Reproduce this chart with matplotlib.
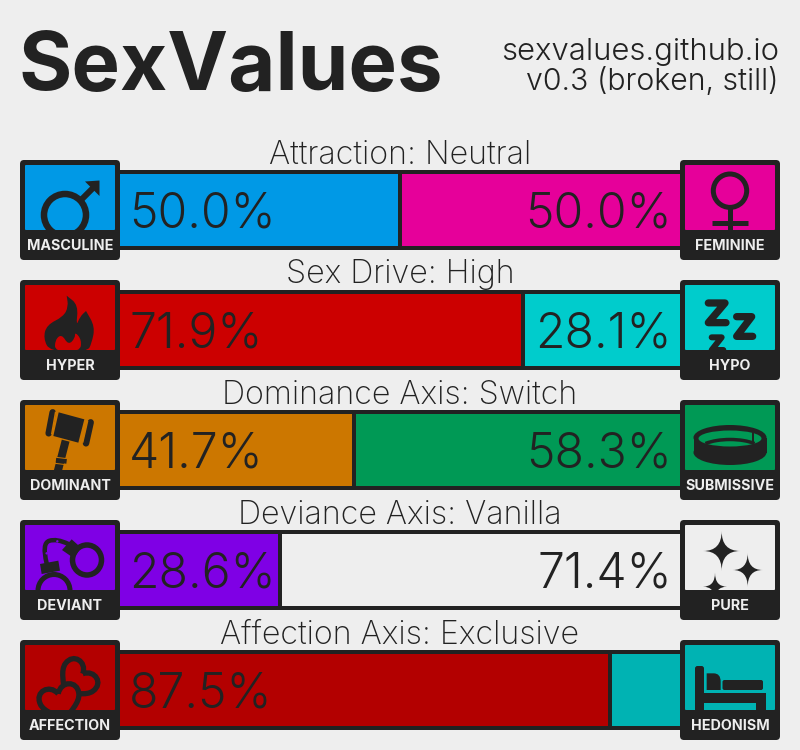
import math
import matplotlib
matplotlib.use('Agg')
import matplotlib.pyplot as plt
from matplotlib.patches import Rectangle, FancyBboxPatch, Circle, Ellipse, PathPatch, Arc
from matplotlib.path import Path

BG = '#EEEEEE'
DARK = '#222222'
FONT = 'Inter'

# chart values
axis_titles = ['Attraction: Neutral', 'Sex Drive: High', 'Dominance Axis: Switch',
               'Deviance Axis: Vanilla', 'Affection Axis: Exclusive']
left_values = [50.0, 71.9, 41.7, 28.6, 87.5]
right_values = [50.0, 28.1, 58.3, 71.4, 12.5]
left_names = ['MASCULINE', 'HYPER', 'DOMINANT', 'DEVIANT', 'AFFECTION']
right_names = ['FEMININE', 'HYPO', 'SUBMISSIVE', 'PURE', 'HEDONISM']
left_colors = ['#0099E6', '#CC0000', '#CC7700', '#7F00E5', '#B30000']
right_colors = ['#E6009A', '#00CCCC', '#009955', '#EEEEEE', '#00B3B3']

fig = plt.figure(figsize=(8, 7.5), dpi=100)
fig.patch.set_facecolor(BG)

# bars get their own axes, 0-100 across the gap between the icons
bar_ax = fig.add_axes([120 / 800, 0, 560 / 800, 600 / 750])
bar_ax.set_xlim(0, 100)
bar_ax.set_ylim(4.5, -0.5)
bar_ax.axis('off')
rows = list(range(len(left_values)))
bar_ax.barh(rows, [100] * len(rows), height=80 / 120, color=DARK, linewidth=0)
bar_ax.barh(rows, left_values, height=72 / 120, color=left_colors, linewidth=0)
bar_ax.barh(rows, right_values, left=left_values, height=72 / 120, color=right_colors, linewidth=0)
bar_ax.vlines(left_values, [r - 36 / 120 for r in rows], [r + 36 / 120 for r in rows], color=DARK, lw=2.88)

# everything else in pixel coordinates
ax = fig.add_axes([0, 0, 1, 1])
ax.set_xlim(0, 800)
ax.set_ylim(750, 0)
ax.axis('off')

ax.text(19, 90, 'SexValues', family=FONT, weight=700, fontsize=58.7, color=DARK, ha='left', va='baseline')
ax.text(779, 60, 'sexvalues.github.io', family=FONT, weight=300, fontsize=22.3, color=DARK, ha='right', va='baseline')
ax.text(779, 90, 'v0.3 (broken, still)', family=FONT, weight=300, fontsize=21.8, color=DARK, ha='right', va='baseline')


def zpts(pts, ox, oy):
    return [(ox + x / 3, oy + y / 3) for x, y in pts]


def blob(pts, **kw):
    # closed quadratic spline, repeat a point to get a sharper corner
    mids = [((pts[i][0] + pts[(i + 1) % len(pts)][0]) / 2, (pts[i][1] + pts[(i + 1) % len(pts)][1]) / 2)
            for i in range(len(pts))]
    verts = [mids[-1]]
    codes = [Path.MOVETO]
    for p, m in zip(pts, mids):
        verts += [p, m]
        codes += [Path.CURVE3, Path.CURVE3]
    return PathPatch(Path(verts, codes), **kw)


def stroke(pts, lw, color=DARK, cap='round', join='round'):
    return ax.plot([p[0] for p in pts], [p[1] for p in pts], color=color, lw=lw * 0.72,
                   solid_capstyle=cap, solid_joinstyle=join, zorder=6)[0]


def spline_stroke(pts, lw):
    verts = [pts[0]]
    codes = [Path.MOVETO]
    for i in range(1, len(pts) - 1):
        m = ((pts[i][0] + pts[i + 1][0]) / 2, (pts[i][1] + pts[i + 1][1]) / 2)
        if i == len(pts) - 2:
            m = pts[-1]
        verts += [pts[i], m]
        codes += [Path.CURVE3, Path.CURVE3]
    return PathPatch(Path(verts, codes), fc='none', ec=DARK, lw=lw * 0.72, capstyle='round', zorder=6)


def star(cx, cy, rx, ry):
    v = [(cx, cy - ry), (cx, cy), (cx + rx, cy), (cx, cy), (cx, cy + ry), (cx, cy), (cx - rx, cy), (cx, cy), (cx, cy - ry)]
    c = [Path.MOVETO] + [Path.CURVE3] * 8
    return PathPatch(Path(v, c), fc=DARK, ec='none', zorder=6)


def heart(cx, cy, s, deg, fc):
    unit = [(0, -0.35), (-0.3, -0.95), (-1.1, -0.75), (-1, -0.1), (-0.95, 0.35), (-0.3, 0.7), (0, 1),
            (0.3, 0.7), (0.95, 0.35), (1, -0.1), (1.1, -0.75), (0.3, -0.95), (0, -0.35)]
    t = math.radians(deg)
    v = [(cx + s * (x * math.cos(t) - y * math.sin(t)), cy + s * (x * math.sin(t) + y * math.cos(t))) for x, y in unit]
    c = [Path.MOVETO] + [Path.CURVE4] * 12
    return PathPatch(Path(v, c), fc=fc, ec=DARK, lw=5.3 * 0.72, zorder=6)


def icon_male(oy):
    out = [ax.add_patch(Circle((65, oy + 55), 21, fc='none', ec=DARK, lw=6.5 * 0.72, zorder=6))]
    out.append(stroke([(81, oy + 40), (94, oy + 27)], 6, cap='butt'))
    out.append(ax.add_patch(plt.Polygon([(99.5, oy + 20.5), (99.5, oy + 36), (85, oy + 21.5)], fc=DARK, ec='none', zorder=6)))
    return out


def icon_female(oy):
    out = [ax.add_patch(Circle((730, oy + 30.7), 16.7, fc='none', ec=DARK, lw=5 * 0.72, zorder=6))]
    out.append(stroke([(730, oy + 47), (730, oy + 72)], 5, cap='butt'))
    out.append(stroke([(712, oy + 63), (748, oy + 63)], 5, cap='butt'))
    return out


def icon_flame(oy):
    f = lambda pts: zpts(pts, 0, oy - 150)
    outer = f([(200, 497), (200, 497), (235, 525), (228, 590), (240, 560), (258, 543), (258, 543),
               (285, 590), (275, 640), (262, 665), (150, 665), (130, 625), (140, 585), (190, 560),
               (205, 530)])
    inner = f([(165, 665), (165, 630), (185, 612), (205, 645), (225, 625), (225, 605), (245, 630), (240, 665)])
    return [ax.add_patch(blob(outer, fc=DARK, ec='none', zorder=6)),
            ax.add_patch(blob(inner, fc=left_colors[1], ec='none', zorder=6))]


def icon_zzz(oy):
    f = lambda pts: zpts(pts, 600, oy - 150)
    return [stroke(f([(325, 519), (375, 519), (325, 578), (378, 578)]), 7.3),
            stroke(f([(410, 560), (455, 560), (410, 619), (458, 619)]), 7.3),
            stroke(f([(335, 622), (365, 622), (335, 660), (370, 660)]), 6)]


def icon_gavel(oy):
    f = lambda pts: zpts(pts, 0, oy - 20)
    c = left_colors[2]
    out = [ax.add_patch(plt.Polygon(f([(176, 97), (253, 118), (235, 188), (160, 168)]), fc=DARK, ec='none', zorder=6))]
    out.append(stroke(f([(158, 97), (146, 160)]), 6.5))
    out.append(stroke(f([(272, 127), (258, 190)]), 6.5))
    out.append(stroke(f([(167, 95), (155, 163)]), 1.5, c, 'butt'))
    out.append(stroke(f([(263, 122), (248, 188)]), 1.5, c, 'butt'))
    out.append(stroke(f([(197, 182), (173, 275)]), 8, cap='butt'))
    out.append(stroke(f([(168, 239), (200, 243)]), 5.5, cap='butt'))
    out.append(stroke(f([(168, 232), (202, 236)]), 1, c, 'butt'))
    out.append(stroke(f([(165, 250), (198, 254)]), 1, c, 'butt'))
    return out


def icon_collar(oy):
    c = right_colors[2]
    cx = 730
    cy_top = oy + 37.5
    cy_bot = oy + 52.5
    out = [ax.add_patch(Rectangle((cx - 36.5, cy_top), 73, cy_bot - cy_top, fc=DARK, ec='none', zorder=6)),
           ax.add_patch(Ellipse((cx, cy_top), 73, 25, fc=DARK, ec='none', zorder=6)),
           ax.add_patch(Ellipse((cx, cy_bot), 73, 25, fc=DARK, ec='none', zorder=6)),
           ax.add_patch(Ellipse((cx, cy_top + 1), 63, 16, fc=c, ec='none', zorder=6))]
    out.append(ax.add_patch(Arc((cx, cy_top + 15), 68, 26, theta1=200, theta2=340, ec=DARK, lw=2.5, zorder=6)))
    out.append(stroke([(cx + 23, oy + 29), (cx + 23, oy + 43)], 2))
    return out


def icon_cuffs(oy):
    f = lambda pts: zpts(pts, 0, oy - 140)
    c = left_colors[3]
    out = [ax.add_patch(Ellipse((87, oy + 40), 29, 30, fc='none', ec=DARK, lw=5.5 * 0.72, zorder=6)),
           ax.add_patch(Circle((54, oy + 70.5), 16, fc='none', ec=DARK, lw=5 * 0.72, zorder=6))]
    out.append(ax.add_patch(plt.Polygon(f([(186, 510), (215, 478), (243, 503), (222, 535)]), fc=DARK, ec='none', zorder=6)))
    out.append(ax.add_patch(plt.Polygon(f([(120, 552), (175, 542), (180, 572), (125, 582)]), fc=DARK, ec='none', zorder=6)))
    out.append(ax.add_patch(spline_stroke(f([(140, 550), (125, 490), (170, 475), (205, 492)]), 4.5)))
    for p in f([(172, 484), (150, 497), (140, 520)]):
        out.append(ax.add_patch(Circle(p, 1.2, fc=c, ec='none', zorder=6)))
    return out


def icon_sparkle(oy):
    f = lambda x, y: (600 + x / 3, oy - 140 + y / 3)
    return [ax.add_patch(star(*f(365, 513), 18.5, 20)),
            ax.add_patch(star(*f(443, 570), 15, 17)),
            ax.add_patch(star(*f(345, 620), 12, 14))]


def icon_hearts(oy):
    # lower heart is filled so it hides the tip of the upper one
    return [ax.add_patch(heart(78, oy + 38.5, 19.5, 45, 'none')),
            ax.add_patch(heart(60, oy + 60.5, 20, -15, left_colors[4]))]


def icon_bed(oy):
    f = lambda pts: zpts(pts, 600, oy - 260)
    out = [ax.add_patch(FancyBboxPatch((695, oy + 26), 9, 60, boxstyle='round,pad=0,rounding_size=2.5', fc=DARK, ec='none', zorder=6))]
    out.append(ax.add_patch(plt.Polygon(f([(312, 938), (497, 938), (497, 995), (468, 995), (468, 968), (312, 968)]), fc=DARK, ec='none', zorder=6)))
    out.append(ax.add_patch(blob(f([(320, 880), (320, 880), (362, 880), (362, 930), (362, 930), (320, 930), (320, 930)]), fc=DARK, ec='none', zorder=6)))
    out.append(ax.add_patch(FancyBboxPatch((722.5, oy + 40), 40.5, 10, boxstyle='round,pad=0,rounding_size=2', fc=DARK, ec='none', zorder=6)))
    return out


left_icons = [icon_male, icon_flame, icon_gavel, icon_cuffs, icon_hearts]
right_icons = [icon_female, icon_zzz, icon_collar, icon_sparkle, icon_bed]

for i in rows:
    top = 160 + 120 * i
    ax.text(400, top + 3.5, axis_titles[i], family=FONT, weight=200, fontsize=23.2, color=DARK, ha='center', va='baseline')
    # percentages, the small side has no room for one
    if left_values[i] > 20:
        ax.text(129, top + 50, f'{left_values[i]:.1f}%', family=FONT, weight=300, fontsize=34.6, color=DARK,
                ha='left', va='center_baseline')
    if right_values[i] > 20:
        ax.text(672, top + 50, f'{right_values[i]:.1f}%', family=FONT, weight=300, fontsize=34.6, color=DARK,
                ha='right', va='center_baseline')
    boxes = [(20, left_colors[i], left_names[i], left_icons[i]),
             (680, right_colors[i], right_names[i], right_icons[i])]
    for x0, col, name, draw in boxes:
        ax.add_patch(FancyBboxPatch((x0, top), 100, 100, boxstyle='round,pad=0,rounding_size=4',
                                    fc=DARK, ec='none', zorder=4))
        ax.add_patch(FancyBboxPatch((x0 + 5, top + 5), 90, 65, boxstyle='round,pad=0,rounding_size=1',
                                    fc=col, ec='none', zorder=5))
        clip = Rectangle((x0 + 5, top + 5), 90, 65, transform=ax.transData)
        for a in draw(top):
            a.set_clip_path(clip)
        ax.text(x0 + 50, top + 84.5, name, family=FONT, weight=700, fontsize=10.3, color=BG,
                ha='center', va='center_baseline', zorder=7)

fig.savefig('out.png', dpi=100)
